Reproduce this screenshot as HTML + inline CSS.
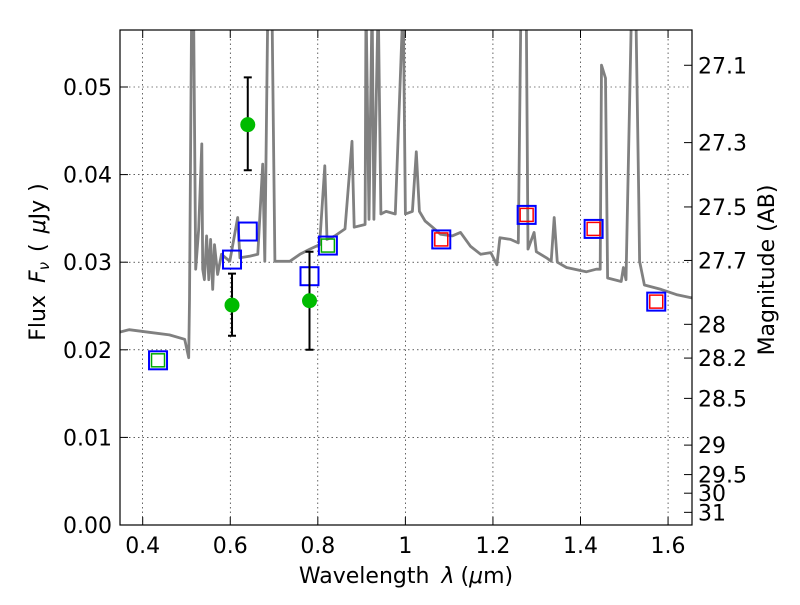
<!DOCTYPE html>
<html><head><meta charset="utf-8"><style>
body{margin:0;background:#fff}
svg text{font-family:"DejaVu Sans","Liberation Sans",sans-serif}
</style></head><body>
<svg id="chart" width="800" height="600" xmlns="http://www.w3.org/2000/svg">
<defs><clipPath id="clip"><rect x="120" y="30" width="572" height="495"/></clipPath></defs>
<rect width="800" height="600" fill="#fff"/>
<g id="grid"></g>
<g id="spec" clip-path="url(#clip)"></g>
<g id="marks"></g>
<rect x="120" y="30" width="572" height="495" fill="none" stroke="#000" stroke-width="1.2"/>
<g id="axes"></g>
<text x="406" y="583" font-size="22" text-anchor="middle">Wavelength<tspan dx="12" font-style="italic">λ</tspan><tspan dx="6">(</tspan><tspan font-style="italic">μ</tspan>m)</text>
<text transform="translate(45,262) rotate(-90)" font-size="22" text-anchor="middle">Flux<tspan dx="12" font-style="italic">F</tspan><tspan font-style="italic" font-size="15" dy="4">ν</tspan><tspan dy="-4" dx="10">(</tspan><tspan dx="10" font-style="italic">μ</tspan>Jy<tspan dx="8">)</tspan></text>
<text transform="translate(774,270) rotate(-90)" font-size="22" text-anchor="middle">Magnitude (AB)</text>
</svg>
<script>
const xTicks=[0.4,0.6,0.8,1.0,1.2,1.4,1.6];
const xTickLabels=["0.4","0.6","0.8","1","1.2","1.4","1.6"];
const yTicks=[0,0.01,0.02,0.03,0.04,0.05];
const yTickLabels=["0.00","0.01","0.02","0.03","0.04","0.05"];
const magTicks=[27.1,27.3,27.5,27.7,28,28.2,28.5,29,29.5,30,31];
const magTickLabels=["27.1","27.3","27.5","27.7","28","28.2","28.5","29","29.5","30","31"];
const specWl=[0.346,0.369,0.415,0.461,0.496,0.505,0.507,0.512,0.516,0.521,0.528,0.535,0.537,0.541,0.546,0.551,0.555,0.560,0.564,0.571,0.580,0.599,0.617,0.622,0.645,0.663,0.674,0.679,0.686,0.695,0.702,0.736,0.759,0.782,0.804,0.816,0.821,0.839,0.862,0.878,0.883,0.908,0.910,0.917,0.924,0.928,0.938,0.944,0.956,0.977,0.995,1.000,1.016,1.025,1.032,1.045,1.062,1.080,1.107,1.126,1.149,1.172,1.195,1.209,1.216,1.240,1.258,1.264,1.276,1.280,1.294,1.299,1.322,1.333,1.340,1.347,1.368,1.413,1.436,1.445,1.448,1.457,1.462,1.493,1.498,1.504,1.517,1.526,1.533,1.535,1.546,1.584,1.619,1.656];
const specFlux=[0.0220,0.0223,0.0220,0.0217,0.0212,0.0191,0.0257,0.060,0.060,0.0292,0.0338,0.0435,0.0292,0.0280,0.0330,0.0280,0.0326,0.0269,0.0320,0.0286,0.0309,0.0301,0.0351,0.0305,0.0307,0.0309,0.0412,0.0301,0.060,0.060,0.0301,0.0301,0.0309,0.0315,0.0320,0.0410,0.0326,0.0330,0.0338,0.0438,0.0340,0.0343,0.060,0.0349,0.060,0.0349,0.060,0.0355,0.0358,0.0355,0.060,0.0355,0.0358,0.0426,0.0358,0.0347,0.0340,0.0332,0.0330,0.0334,0.0318,0.0309,0.0311,0.0297,0.0328,0.0326,0.0322,0.060,0.060,0.0315,0.0334,0.0312,0.0305,0.0301,0.0351,0.0300,0.0294,0.0289,0.0292,0.0292,0.0525,0.0510,0.0282,0.0278,0.0294,0.0280,0.060,0.060,0.0378,0.0301,0.0274,0.0269,0.0263,0.0259];
const boxWl=[0.435,0.604,0.640,0.781,0.823,1.082,1.277,1.430,1.573];
const boxFlux=[0.0188,0.0303,0.0335,0.0284,0.0319,0.0326,0.0354,0.0338,0.0255];
const innerWl=[0.435,0.823,1.082,1.277,1.430,1.573];
const innerFlux=[0.0188,0.0319,0.0326,0.0354,0.0338,0.0255];
const innerColor=["#00aa00","#00aa00","red","red","red","red"];
const obsWl=[0.604,0.640,0.781];
const obsFlux=[0.0251,0.0457,0.0256];
const obsLo=[0.0216,0.0405,0.0200];
const obsHi=[0.0287,0.0511,0.0312];

const NS="http://www.w3.org/2000/svg";
const X=w=>142.7+(w-0.4)*437.8;
const Y=f=>525-f*8760;
const M=m=>Y(Math.pow(10,(23.9-m)/2.5));
function mk(tag,attrs,parent,txt){const e=document.createElementNS(NS,tag);for(const k in attrs)e.setAttribute(k,attrs[k]);if(txt!==undefined)e.textContent=txt;document.getElementById(parent).appendChild(e);return e;}
xTicks.forEach((t,i)=>{
 let g=mk('line',{x1:X(t),x2:X(t),y1:30,y2:525,stroke:'#000','stroke-width':0.6,'stroke-dasharray':'1.5,3'},'grid');
 
 let a=mk('line',{x1:X(t),x2:X(t),y1:525,y2:517,stroke:'#000'},'axes');
 
 let b=mk('line',{x1:X(t),x2:X(t),y1:30,y2:38,stroke:'#000'},'axes');
 
 let l=mk('text',{x:X(t),y:553,'font-size':22,'text-anchor':'middle'},'axes',xTickLabels[i]);
 
});
yTicks.forEach((t,i)=>{
 let g=mk('line',{x1:120,x2:692,y1:Y(t),y2:Y(t),stroke:'#000','stroke-width':0.6,'stroke-dasharray':'1.5,3'},'grid');
 
 let a=mk('line',{x1:120,x2:128,y1:Y(t),y2:Y(t),stroke:'#000'},'axes');
 
 let l=mk('text',{x:112,y:Y(t)+8,'font-size':22,'text-anchor':'end'},'axes',yTickLabels[i]);
 
});
magTicks.forEach((m,i)=>{
 let a=mk('line',{x1:684,x2:692,y1:M(m),y2:M(m),stroke:'#000'},'axes');
 
 let l=mk('text',{x:698,y:M(m)+8,'font-size':22},'axes',magTickLabels[i]);
 
});
let d=specWl.map((w,i)=>(i?'L':'M')+X(w).toFixed(1)+','+Y(specFlux[i]).toFixed(1)).join('');
let sp=mk('path',{d:d,fill:'none',stroke:'#808080','stroke-width':2.8,'stroke-linejoin':'round'},'spec');

boxWl.forEach((w,i)=>{
 let r=mk('rect',{x:X(w)-9,y:Y(boxFlux[i])-9,width:18,height:18,fill:'none',stroke:'#0000ff','stroke-width':2},'marks');
 
});
innerWl.forEach((w,i)=>{
 let r=mk('rect',{x:X(w)-6.5,y:Y(innerFlux[i])-6.5,width:13,height:13,fill:'none',stroke:innerColor[i],'stroke-width':1.5},'marks');
 
});
obsWl.forEach((w,i)=>{
 let e=mk('path',{d:`M${X(w)},${Y(obsLo[i])}V${Y(obsHi[i])}M${X(w)-4},${Y(obsLo[i])}h8M${X(w)-4},${Y(obsHi[i])}h8`,stroke:'#000','stroke-width':2,fill:'none'},'marks');
 
 let c=mk('circle',{cx:X(w),cy:Y(obsFlux[i]),r:7.5,fill:'#00bb00'},'marks');
 
});
</script>
</body></html>
